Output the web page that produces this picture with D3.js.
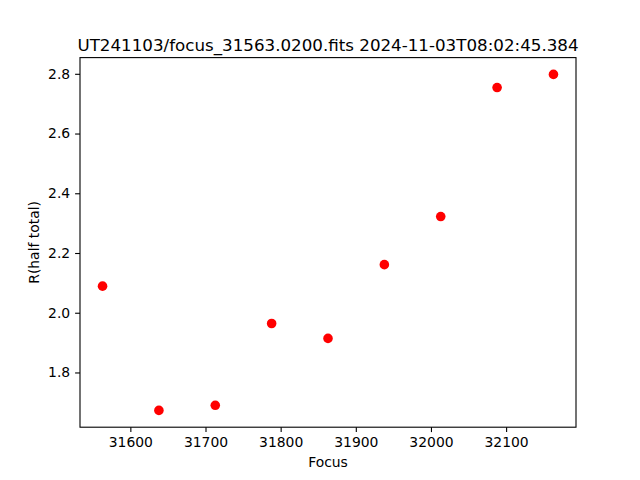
<!DOCTYPE html>
<html><head><meta charset="utf-8">
<script src="https://cdn.jsdelivr.net/npm/d3@7"></script>
<style>body{margin:0;background:#fff}svg{display:block}text{font-family:"DejaVu Sans",sans-serif;fill:#000}</style>
</head><body>
<script>
const title = "UT241103/focus_31563.0200.fits 2024-11-03T08:02:45.384";
const xLabel = "Focus";
const yLabel = "R(half total)";
const focus = [31563, 31638, 31713, 31788, 31863, 31938, 32013, 32088, 32163];
const radius = [2.089, 1.673, 1.690, 1.964, 1.914, 2.161, 2.322, 2.754, 2.798];
const xTicks = [31600, 31700, 31800, 31900, 32000, 32100];
const yTicks = [1.8, 2.0, 2.2, 2.4, 2.6, 2.8];

const W = 640, H = 480;
const L = 80, R = 576, T = 57.6, B = 427.2;
const svg = d3.select("body").append("svg").attr("width", W).attr("height", H);

const pad = (ext) => { const d = (ext[1]-ext[0])*0.05; return [ext[0]-d, ext[1]+d]; };
const x = d3.scaleLinear().domain(pad(d3.extent(focus))).range([L, R]);
const y = d3.scaleLinear().domain(pad(d3.extent(radius))).range([B, T]);

const xAxis = svg.append("g").attr("transform", `translate(0,${B})`)
  .call(d3.axisBottom(x).tickValues(xTicks).tickFormat(d3.format("d")).tickSize(4.9).tickPadding(4.9));
const yAxis = svg.append("g").attr("transform", `translate(${L},0)`)
  .call(d3.axisLeft(y).tickValues(yTicks).tickFormat(d3.format(".1f")).tickSize(4.9).tickPadding(4.9));
[xAxis, yAxis].forEach(g => {
  g.select(".domain").remove();
  g.selectAll(".tick line").attr("stroke", "#000").attr("stroke-width", 1.1);
  g.selectAll(".tick text").attr("font-size", 13.9).attr("font-family", "DejaVu Sans");
});

svg.append("g").selectAll("circle").data(focus).join("circle")
  .attr("cx", (d) => x(d)).attr("cy", (d, i) => y(radius[i])).attr("r", 4.8).attr("fill", "#ff0000");

svg.append("rect").attr("x", L).attr("y", T).attr("width", R-L).attr("height", B-T)
  .attr("fill", "none").attr("stroke", "#000").attr("stroke-width", 1.1);

svg.append("text").attr("x", (L+R)/2).attr("y", T-7).attr("text-anchor", "middle")
  .attr("font-size", 16.7).text(title);
svg.append("text").attr("x", (L+R)/2).attr("y", 467).attr("text-anchor", "middle")
  .attr("font-size", 13.9).text(xLabel);
svg.append("text").attr("transform", `translate(39,${(T+B)/2}) rotate(-90)`).attr("text-anchor", "middle")
  .attr("font-size", 13.9).text(yLabel);
</script>
</body></html>
